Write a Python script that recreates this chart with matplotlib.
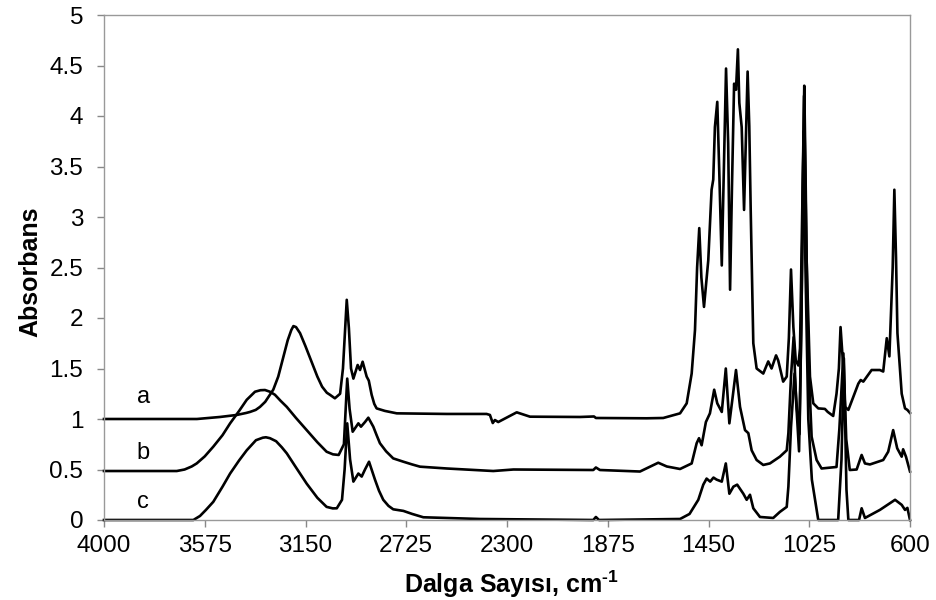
import matplotlib
matplotlib.use("Agg")
import matplotlib.pyplot as plt

# spektrum a
dalga_a = [4000, 3806, 3608, 3511, 3440, 3400, 3384, 3360, 3342, 3320, 3300, 3286, 3265, 3245,
           3225, 3210, 3201, 3190, 3173, 3150, 3130, 3117, 3100, 3080, 3060, 3047,
           3026, 3004, 2992, 2976, 2967, 2958, 2948, 2930, 2920, 2909, 2892, 2883, 2871, 2860, 2850,
           2815, 2765, 2554, 2386, 2372, 2360, 2351, 2337, 2259, 2203, 1992, 1933, 1925, 1711,
           1641, 1570, 1542, 1521, 1507, 1498, 1489, 1480, 1469, 1451, 1437, 1430, 1423, 1413,
           1404, 1394, 1385, 1376, 1367, 1359, 1351, 1342, 1334, 1326, 1320, 1310, 1300, 1292,
           1285, 1278, 1272, 1261, 1247, 1219, 1198, 1184, 1165, 1156, 1135, 1120, 1111, 1102,
           1092, 1082, 1071, 1064, 1055, 1046, 1041, 1036, 1022, 1008, 987, 959, 947, 924, 910,
           900, 893, 884, 874, 860, 839, 818, 808, 797, 762, 727, 713, 698, 687, 673, 666, 659,
           653, 635, 621, 611, 600]
abs_a = [1.0, 1.0, 1.0, 1.02, 1.04, 1.06, 1.07, 1.09, 1.12, 1.17, 1.24, 1.29, 1.42, 1.6,
         1.78, 1.88, 1.92, 1.91, 1.85, 1.72, 1.6, 1.52, 1.42, 1.32, 1.26, 1.24,
         1.205, 1.25, 1.5, 2.18, 1.9, 1.5, 1.40, 1.535, 1.485, 1.567, 1.42, 1.38, 1.24, 1.15, 1.105,
         1.08, 1.056, 1.05, 1.05, 1.04, 0.96, 0.99, 0.97, 1.066, 1.023, 1.02, 1.025, 1.01, 1.007,
         1.01, 1.056, 1.155, 1.45, 1.88, 2.5, 2.89, 2.4, 2.11, 2.57, 3.27, 3.37, 3.89, 4.14,
         3.4, 2.52, 3.5, 4.47, 3.73, 2.28, 3.3, 4.32, 4.26, 4.66, 4.13, 3.89, 3.07, 3.8,
         4.44, 3.9, 3.07, 1.75, 1.50, 1.45, 1.57, 1.50, 1.63, 1.58, 1.37, 1.42, 1.8, 2.48,
         1.91, 1.58, 1.53, 1.7, 3.0, 4.30, 3.5, 2.57, 1.42, 1.155, 1.105, 1.10, 1.07, 1.03, 1.25,
         1.5, 1.91, 1.6, 1.12, 1.09, 1.22, 1.35, 1.386, 1.37, 1.485, 1.485, 1.47, 1.80, 1.62, 2.5, 3.27, 2.6,
         1.85, 1.25, 1.105, 1.09, 1.06]

# spektrum b
dalga_b = [4000, 3693, 3660, 3630, 3609, 3575, 3539, 3500, 3468, 3430, 3398, 3363, 3340, 3321,
           3300, 3279, 3255, 3229, 3190, 3145, 3100, 3061, 3034, 3010,
           2988, 2974, 2964, 2951, 2927, 2916, 2899, 2885, 2864, 2850, 2836, 2810, 2780, 2737, 2700,
           2667, 2554, 2358, 2273, 1936, 1925, 1908, 1739, 1662, 1626, 1570, 1521, 1500, 1490,
           1479, 1461, 1444, 1426, 1413, 1394, 1377, 1362, 1349, 1334, 1317, 1296, 1282, 1268,
           1247, 1219, 1191, 1149, 1120, 1113, 1102, 1091, 1081, 1068, 1058, 1047, 1039, 1029,
           1015, 994, 973, 910, 898, 881, 869, 854, 825, 804, 790, 769, 713, 692, 671, 654, 635,
           629, 617, 600]
abs_b = [0.485, 0.485, 0.50, 0.53, 0.56, 0.63, 0.726, 0.84, 0.957, 1.08, 1.19, 1.27, 1.285, 1.287,
         1.27, 1.24, 1.18, 1.12, 1.01, 0.89, 0.77, 0.676, 0.65, 0.644,
         0.75, 1.40, 1.1, 0.874, 0.957, 0.924, 0.97, 1.013, 0.924, 0.84, 0.76, 0.68, 0.61, 0.577, 0.55,
         0.528, 0.51, 0.485, 0.50, 0.495, 0.52, 0.495, 0.48, 0.567, 0.53, 0.505, 0.56, 0.76, 0.81,
         0.74, 0.97, 1.056, 1.29, 1.155, 1.07, 1.50, 0.957, 1.2, 1.485, 1.12, 0.89, 0.86, 0.69,
         0.594, 0.545, 0.56, 0.627, 0.69, 0.86, 1.42, 1.81, 1.2, 0.68, 2.0, 4.2, 3.0, 1.6,
         0.825, 0.594, 0.51, 0.525, 0.9, 1.65, 0.8, 0.495, 0.50, 0.644, 0.56, 0.55, 0.594, 0.676,
         0.89, 0.71, 0.627, 0.70, 0.627, 0.48]

# spektrum c
dalga_c = [4000, 3623, 3595, 3570, 3539, 3500, 3468, 3430, 3398, 3359, 3330, 3317, 3300, 3274,
           3250, 3229, 3190, 3145, 3100, 3061, 3035, 3018, 2996,
           2985, 2974, 2962, 2948, 2927, 2913, 2899, 2882, 2857, 2840, 2822, 2800, 2780, 2737, 2700,
           2653, 2414, 1936, 1925, 1912, 1570, 1530, 1493, 1472, 1458, 1443, 1429, 1416, 1394,
           1377, 1362, 1345, 1329, 1303, 1289, 1275, 1261, 1233, 1177, 1149, 1120, 1113, 1102,
           1087, 1077, 1066, 1058, 1049, 1041, 1029, 1014, 987, 903, 889, 879, 868, 860, 815,
           804, 790, 727, 663, 635, 621, 611, 600]
abs_c = [0.0, 0.0, 0.04, 0.1, 0.18, 0.33, 0.46, 0.59, 0.69, 0.79, 0.815, 0.819, 0.81, 0.78,
         0.72, 0.66, 0.52, 0.36, 0.22, 0.13, 0.115, 0.116, 0.2,
         0.5, 0.957, 0.6, 0.38, 0.46, 0.43, 0.5, 0.577, 0.40, 0.29, 0.2, 0.14, 0.106, 0.09, 0.06,
         0.027, 0.01, 0.0, 0.03, 0.0, 0.01, 0.06, 0.2, 0.35, 0.41, 0.38, 0.42, 0.40, 0.38,
         0.56, 0.26, 0.33, 0.35, 0.26, 0.2, 0.25, 0.116, 0.03, 0.02, 0.08, 0.13, 0.33, 0.92,
         1.45, 1.1, 0.85, 2.0, 3.85, 2.5, 1.0, 0.4, 0.0, 0.0, 0.6, 1.6, 0.3, 0.0, 0.0,
         0.116, 0.02, 0.1, 0.2, 0.15, 0.1, 0.12, 0.0]

x_ticks = [4000, 3575, 3150, 2725, 2300, 1875, 1450, 1025, 600]
y_ticks = [0, 0.5, 1, 1.5, 2, 2.5, 3, 3.5, 4, 4.5, 5]

plt.rcParams['font.family'] = ['Liberation Sans', 'DejaVu Sans']
plt.rcParams['mathtext.fontset'] = 'custom'
plt.rcParams['mathtext.rm'] = 'Liberation Sans:bold'
plt.rcParams['mathtext.default'] = 'rm'

fig = plt.figure(figsize=(9.36, 6), dpi=100)
ax = fig.add_axes([104 / 936, 1 - 520 / 600, 806 / 936, 505 / 600])

for x, y in [(dalga_a, abs_a), (dalga_b, abs_b), (dalga_c, abs_c)]:
    ax.plot(x, y, color='black', lw=1.9, solid_joinstyle='round', clip_on=False)

ax.text(3835, 1.22, 'a', fontsize=17, ha='center', va='center')
ax.text(3835, 0.66, 'b', fontsize=17, ha='center', va='center')
ax.text(3835, 0.18, 'c', fontsize=17, ha='center', va='center')

ax.set_xlim(4000, 600)
ax.set_ylim(0, 5)
ax.set_xticks(x_ticks)
ax.set_yticks(y_ticks)
ax.set_yticklabels(['%g' % v for v in y_ticks])
ax.tick_params(labelsize=17.5, colors='#888888', length=5, width=1, direction='out')
ax.tick_params(axis='y', pad=10)
ax.tick_params(axis='x', pad=6)
for lab in ax.get_xticklabels() + ax.get_yticklabels():
    lab.set_color('black')
for s in ax.spines.values():
    s.set_color('#999999')
    s.set_linewidth(1)

ax.set_xlabel('Dalga Sayısı, cm$^{\\text{-1}}$', fontsize=18, fontweight='bold')
ax.xaxis.set_label_coords(0.505, -0.096)
ax.set_ylabel('Absorbans', fontsize=18, fontweight='bold')
ax.yaxis.set_label_coords(-0.077, 0.491)

fig.savefig('out.png', dpi=100)
